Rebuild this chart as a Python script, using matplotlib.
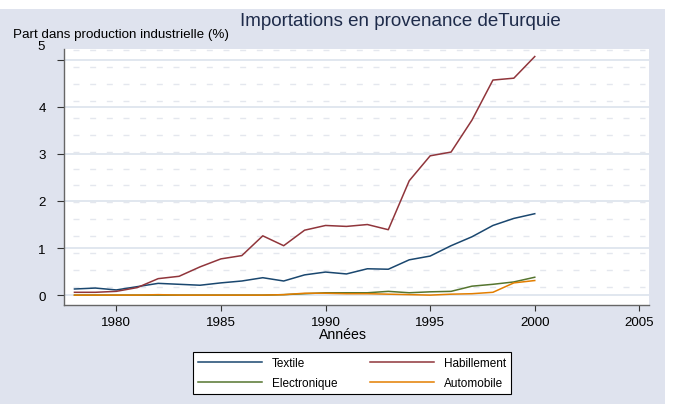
import numpy as np
import matplotlib
matplotlib.use('Agg')
import matplotlib.pyplot as plt
from matplotlib.patches import Rectangle

plt.rcParams['font.family'] = ['Liberation Sans', 'DejaVu Sans']

years = list(range(1978, 2001))
textile = [0.13, 0.15, 0.11, 0.18, 0.25, 0.23, 0.21, 0.26, 0.30, 0.37, 0.30, 0.43, 0.49,
           0.45, 0.56, 0.55, 0.75, 0.83, 1.05, 1.24, 1.48, 1.63, 1.73]
habillement = [0.06, 0.06, 0.08, 0.16, 0.35, 0.40, 0.60, 0.77, 0.84, 1.26, 1.05, 1.38, 1.48,
               1.46, 1.50, 1.39, 2.43, 2.96, 3.04, 3.72, 4.57, 4.61, 5.07]
electronique = [0.0, 0.0, 0.0, 0.0, 0.0, 0.0, 0.0, 0.0, 0.0, 0.0, 0.01, 0.03, 0.05,
                0.05, 0.05, 0.08, 0.05, 0.07, 0.08, 0.19, 0.23, 0.28, 0.38]
automobile = [0.0, 0.0, 0.0, 0.0, 0.01, 0.0, 0.0, 0.0, 0.0, 0.0, 0.01, 0.04, 0.04,
              0.03, 0.03, 0.02, 0.01, 0.0, 0.02, 0.03, 0.06, 0.26, 0.31]

series = [('Textile', textile, '#1a476f'),
          ('Habillement', habillement, '#90353b'),
          ('Electronique', electronique, '#55752f'),
          ('Automobile', automobile, '#e37e00')]

W, H = 684, 410
fig = plt.figure(figsize=(W / 100, H / 100), dpi=100, facecolor='white')

# bluish grey graph region
fig.add_artist(Rectangle((0, 1 - 405 / H), 665 / W, 395 / H, transform=fig.transFigure,
                         facecolor='#dfe3ee', edgecolor='none', zorder=-1))

ax = fig.add_axes([64 / W, 1 - 306 / H, 585 / W, 256 / H])
ax.set_facecolor('white')

# faint dashed lines over the white area
for k in range(15):
    yy = (306 - (51 + 16.93 * k)) / 256
    ax.plot([0.015, 0.993], [yy, yy], transform=ax.transAxes, color='#e4e7ee',
            lw=1.0, dashes=(4.3, 7.7), zorder=1)

lines = {}
for name, vals, col in series:
    lines[name], = ax.plot(years, vals, color=col, lw=1.1, label=name, zorder=3)

ax.set_xlim(1977.5, 2005.46)
ax.set_ylim(-0.21, 5.23)
ax.set_xticks([1980, 1985, 1990, 1995, 2000, 2005])
ax.set_yticks([0, 1, 2, 3, 4, 5])
ax.set_yticklabels(['0', '1', '2', '3', '4', ''])
ax.yaxis.grid(True, color='#d9e0eb', lw=1.1)
ax.set_axisbelow(True)
ax.tick_params(axis='y', length=5, width=0.8, pad=8, labelsize=9.6, color='#333333')
ax.tick_params(axis='x', length=4.5, width=0.8, pad=3.5, labelsize=9.6, color='#333333')
for s in ['top', 'right']:
    ax.spines[s].set_visible(False)
for s in ['left', 'bottom']:
    ax.spines[s].set_color('#666666')
    ax.spines[s].set_linewidth(1.0)

fig.text(41 / W, 1 - 47 / H, '5', ha='center', va='center', fontsize=9.6)
fig.text(13 / W, 1 - 35 / H, 'Part dans production industrielle (%)', ha='left',
         va='center', fontsize=9.6)
fig.text(400 / W, 1 - 22 / H, 'Importations en provenance deTurquie', ha='center',
         va='center', fontsize=13.5, color='#1e2b4a')
fig.text(343 / W, 1 - 335 / H, 'Années', ha='center', va='center', fontsize=10.2)

order = ['Textile', 'Electronique', 'Habillement', 'Automobile']
leg = fig.legend([lines[n] for n in order], order, loc='center',
                 bbox_to_anchor=(352 / W, 1 - 374 / H), ncol=2,
                 fontsize=8.5, handlelength=5.4, handletextpad=0.82, columnspacing=2.8,
                 labelspacing=0.62, borderpad=0.45, fancybox=False, framealpha=1,
                 edgecolor='black')
leg.get_frame().set_linewidth(0.8)

fig.savefig('out.png', dpi=100, facecolor='white')
